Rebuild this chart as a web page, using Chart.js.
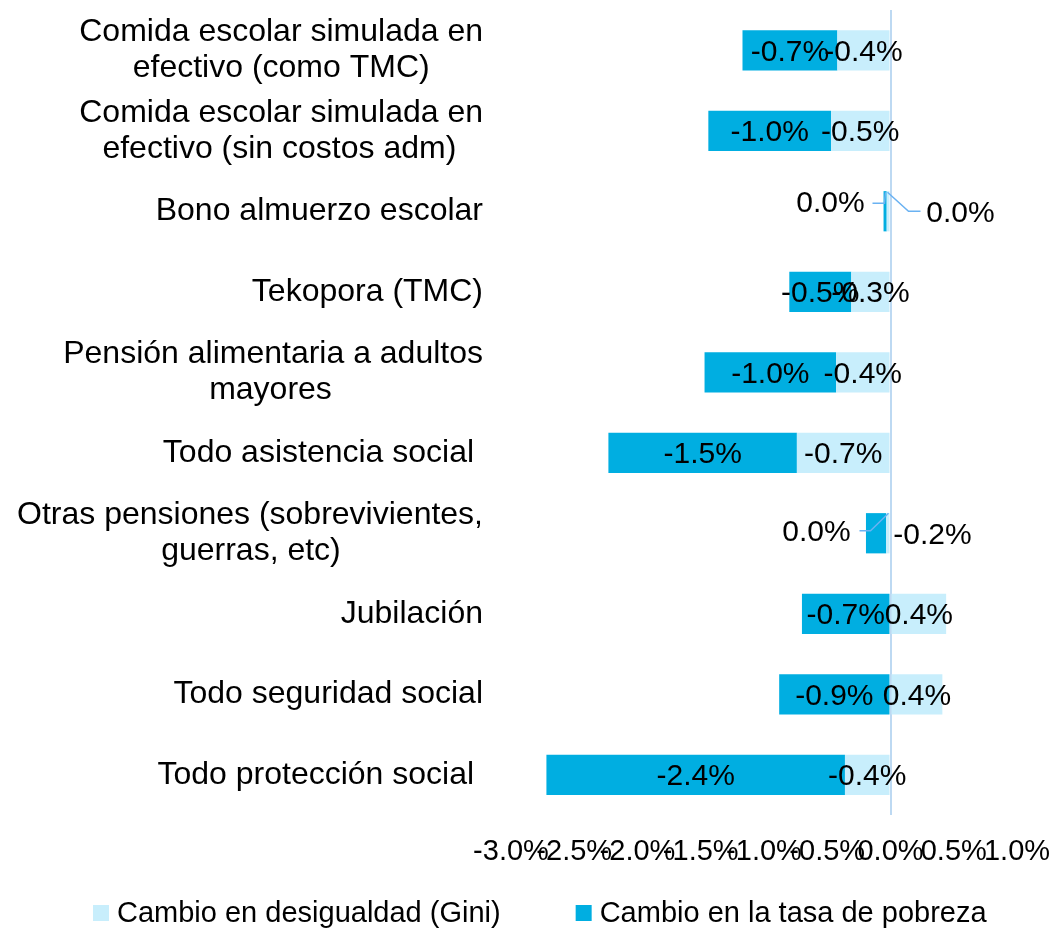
<!DOCTYPE html>
<html lang="es">
<head>
<meta charset="UTF-8">
<title>Cambio en pobreza y desigualdad</title>
<script src="https://cdn.jsdelivr.net/npm/chart.js@4.4.0/dist/chart.umd.min.js"></script>
<style>
  html, body { margin: 0; padding: 0; background: #fff; }
</style>
</head>
<body>
<canvas id="povertyChart" width="1052" height="930"></canvas>
<script>
// categories (trailing spaces keep the wrapped lines centred like in Excel)
const categories = [
  ["Comida escolar simulada en", "efectivo (como TMC)      "],
  ["Comida escolar simulada en", "efectivo (sin costos adm)   "],
  "Bono almuerzo escolar",
  "Tekopora (TMC)",
  ["Pensión alimentaria a adultos", "mayores                 "],
  "Todo asistencia social ",
  ["Otras pensiones (sobrevivientes,", "guerras, etc)                "],
  "Jubilación",
  "Todo seguridad social",
  "Todo protección social "
];
const seriesNames = ["Cambio en desigualdad (Gini)", "Cambio en la tasa de pobreza"];
// values in percentage points
const giniChange = [-0.42, -0.47, -0.03, -0.31, -0.43, -0.74, -0.034, 0.44, 0.41, -0.36];
const povertyChange = [-0.75, -0.97, -0.025, -0.49, -1.04, -1.49, -0.16, -0.70, -0.88, -2.36];
const xTickValues = [-3.0, -2.5, -2.0, -1.5, -1.0, -0.5, 0.0, 0.5, 1.0];

const FONT = "'Liberation Sans', Arial, sans-serif";
const LIGHT = "#C8EEFC";
const DARK = "#00AEE1";

function fmtPct(v) {
  let r = Math.round(v * 10) / 10;
  if (r === 0) r = 0;
  return r.toFixed(1) + "%";
}

// labels for the tiny bars were moved by hand in the original, with leader lines
const callouts = {
  "1-2": { dx: -60, dy: -8, line: [[-18, -8], [-6, -8], [-5, -19]] },
  "0-2": { dx: 70, dy: 2, line: [[30, 0], [18, 0], [-3, -19]] },
  "0-6": { dx: -74, dy: -1, line: [[-31, -2.5], [-20, -2.5], [-2, -20]] },
  "1-6": { dx: 42, dy: 2 }
};

const barLabels = {
  id: "barLabels",
  afterDatasetsDraw(chart) {
    const ctx = chart.ctx;
    const xs = chart.scales.x, ys = chart.scales.y;
    const x0 = xs.getPixelForValue(0);
    ctx.save();
    ctx.font = "30px " + FONT;
    ctx.fillStyle = "#000";
    ctx.textAlign = "center";
    ctx.textBaseline = "middle";
    chart.data.datasets.forEach((ds, di) => {
      chart.getDatasetMeta(di).data.forEach((bar, i) => {
        const txt = fmtPct(ds.data[i]);
        const c = callouts[di + "-" + i];
        if (c) {
          const yc = ys.getPixelForValue(i);
          if (c.line) {
            ctx.strokeStyle = "#6AB2F2";
            ctx.lineWidth = 1.5;
            ctx.beginPath();
            c.line.forEach((p, k) => {
              if (k === 0) ctx.moveTo(x0 + p[0], yc + p[1]);
              else ctx.lineTo(x0 + p[0], yc + p[1]);
            });
            ctx.stroke();
          }
          ctx.fillText(txt, x0 + c.dx, yc + c.dy);
          return;
        }
        ctx.fillText(txt, (bar.x + bar.base) / 2, bar.y + 2);
      });
    });
    ctx.restore();
  }
};

const bottomLegend = {
  id: "bottomLegend",
  afterDraw(chart) {
    const ctx = chart.ctx;
    ctx.save();
    ctx.font = "29px " + FONT;
    ctx.textBaseline = "middle";
    ctx.textAlign = "left";
    let x = 93;
    const y = 913;
    chart.data.datasets.forEach((ds) => {
      ctx.fillStyle = ds.backgroundColor;
      ctx.fillRect(x, y - 8, 16, 16);
      ctx.fillStyle = "#000";
      ctx.fillText(ds.label, x + 24, y + 1);
      x += 24 + ctx.measureText(ds.label).width + 75;
    });
    ctx.restore();
  }
};

document.addEventListener("DOMContentLoaded", () => {
  new Chart(document.getElementById("povertyChart"), {
    type: "bar",
    data: {
      labels: categories,
      datasets: [
        { label: seriesNames[0], data: giniChange, backgroundColor: LIGHT },
        { label: seriesNames[1], data: povertyChange, backgroundColor: DARK }
      ]
    },
    plugins: [barLabels, bottomLegend],
    options: {
      indexAxis: "y",
      responsive: false,
      animation: false,
      events: [],
      layout: { padding: { top: 10, right: 35, bottom: 55, left: 0 } },
      datasets: { bar: { barPercentage: 0.5, categoryPercentage: 1.0 } },
      plugins: {
        legend: { display: false },
        tooltip: { enabled: false }
      },
      scales: {
        x: {
          stacked: true,
          min: -3,
          max: 1,
          afterBuildTicks: (axis) => { axis.ticks = xTickValues.map(v => ({ value: v })); },
          afterFit: (s) => { s.height = 60; s.paddingLeft = 0; s.paddingRight = 0; },
          border: { display: false },
          grid: {
            drawTicks: false,
            lineWidth: 2,
            color: (c) => (c.tick && c.tick.value === 0) ? "#BDD9F2" : "rgba(0,0,0,0)"
          },
          ticks: {
            autoSkip: false,
            maxRotation: 0,
            minRotation: 0,
            padding: 20,
            color: "#000",
            font: { family: FONT, size: 29 },
            callback: (v) => fmtPct(v)
          }
        },
        y: {
          stacked: true,
          afterFit: (s) => { s.width = 511; s.paddingTop = 0; s.paddingBottom = 0; },
          border: { display: false },
          grid: { display: false, drawTicks: false },
          ticks: {
            padding: 28,
            color: "#000",
            font: { family: FONT, size: 32, lineHeight: 1.125 }
          }
        }
      }
    }
  });
});
</script>
</body>
</html>
